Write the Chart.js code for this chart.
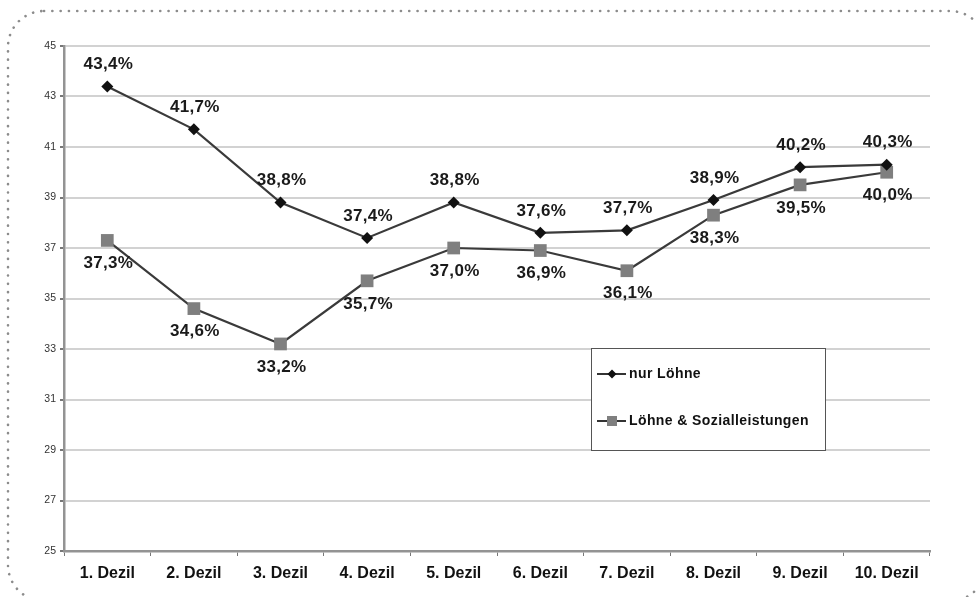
<!DOCTYPE html>
<html>
<head>
<meta charset="utf-8">
<script src="https://cdn.jsdelivr.net/npm/chart.js@4"></script>
<style>
  html, body { margin: 0; padding: 0; background: #fff; }
  #wrap { width: 976px; height: 597px; position: relative; }
</style>
</head>
<body>
<div id="wrap"><canvas id="myChart" width="976" height="597"></canvas></div>
<script>
// Daten
var dezile = ["1. Dezil", "2. Dezil", "3. Dezil", "4. Dezil", "5. Dezil",
              "6. Dezil", "7. Dezil", "8. Dezil", "9. Dezil", "10. Dezil"];
var nurLoehne = [43.4, 41.7, 38.8, 37.4, 38.8, 37.6, 37.7, 38.9, 40.2, 40.3];
var loehneSozial = [37.3, 34.6, 33.2, 35.7, 37.0, 36.9, 36.1, 38.3, 39.5, 40.0];
var serienNamen = ["nur Löhne", "Löhne & Sozialleistungen"];
var yMin = 25, yMax = 45, yStep = 2;

var fontFam = "'Liberation Sans', Arial, sans-serif";

function fmt(v) {
	return v.toFixed(1).replace(".", ",") + "%";
}

// gepunkteter Rahmen
var rahmen = {
	id: "rahmen",
	beforeDraw: function(chart) {
		var c = chart.ctx;
		c.save();
		c.fillStyle = "#fff";
		c.fillRect(0, 0, chart.width, chart.height);
		c.strokeStyle = "#8c8c8c";
		c.lineWidth = 2.6;
		c.lineCap = "round";
		c.setLineDash([0.1, 8.2]);
		c.beginPath();
		c.roundRect(8, 11, 978, 590, 36);
		c.stroke();
		c.restore();
	}
};

// Werte an den Punkten
var werte = {
	id: "werte",
	afterDatasetsDraw: function(chart) {
		var c = chart.ctx;
		c.save();
		c.font = "bold 17px " + fontFam;
		c.letterSpacing = "0.3px";
		c.fillStyle = "#1a1a1a";
		c.textAlign = "center";
		c.textBaseline = "middle";
		chart.data.datasets.forEach(function(ds, i) {
			var meta = chart.getDatasetMeta(i);
			meta.data.forEach(function(pt, j) {
				var dy = i === 0 ? -22 : 23;
				c.fillText(fmt(ds.data[j]), pt.x + 1, pt.y + dy);
			});
		});
		c.restore();
	}
};

// Legende im Diagramm
var legende = {
	id: "legende",
	afterDatasetsDraw: function(chart) {
		var c = chart.ctx;
		var x = 591.5, y = 348.5, w = 234, h = 102;
		c.save();
		c.fillStyle = "#fff";
		c.fillRect(x, y, w, h);
		c.strokeStyle = "#555";
		c.lineWidth = 1;
		c.strokeRect(x, y, w, h);
		var rows = [374, 421];
		chart.data.datasets.forEach(function(ds, i) {
			var ly = rows[i];
			c.strokeStyle = "#333";
			c.lineWidth = 2;
			c.beginPath();
			c.moveTo(597, ly);
			c.lineTo(626, ly);
			c.stroke();
			c.fillStyle = ds.pointBackgroundColor;
			if (i === 0) {
				c.beginPath();
				c.moveTo(612, ly - 4.5);
				c.lineTo(616.5, ly);
				c.lineTo(612, ly + 4.5);
				c.lineTo(607.5, ly);
				c.closePath();
				c.fill();
			} else {
				c.fillRect(607, ly - 5, 10, 10);
			}
			c.fillStyle = "#111";
			c.font = "bold 14px " + fontFam;
			c.letterSpacing = "0.4px";
			c.textAlign = "left";
			c.textBaseline = "middle";
			c.fillText(ds.label, 629, ly);
		});
		c.restore();
	}
};

var ctx = document.getElementById("myChart");

var myChart = new Chart(ctx, {
	type: "line",
	data: {
		labels: dezile,
		datasets: [
			{
				label: serienNamen[0],
				data: nurLoehne,
				borderColor: "#3a3a3a",
				borderWidth: 2.2,
				pointStyle: "rectRot",
				pointRadius: 6,
				pointBackgroundColor: "#111",
				pointBorderColor: "#111",
				pointBorderWidth: 0,
				tension: 0,
				fill: false
			},
			{
				label: serienNamen[1],
				data: loehneSozial,
				borderColor: "#3a3a3a",
				borderWidth: 2.2,
				pointStyle: "rect",
				pointRadius: 9,
				pointBackgroundColor: "#7f7f7f",
				pointBorderColor: "#7f7f7f",
				pointBorderWidth: 0,
				tension: 0,
				fill: false
			}
		]
	},
	options: {
		responsive: false,
		animation: false,
		layout: { padding: { top: 46, right: 46, left: 0, bottom: 0 } },
		plugins: {
			legend: { display: false },
			tooltip: { enabled: false }
		},
		scales: {
			x: {
				offset: true,
				afterFit: function(s) { s.height = 46; },
				grid: {
					offset: true,
					drawOnChartArea: false,
					drawTicks: true,
					tickLength: 5,
					color: "#777",
					lineWidth: 1
				},
				border: { color: "#939393", width: 2.5 },
				ticks: {
					color: "#111",
					padding: 8,
					maxRotation: 0,
					font: { family: fontFam, size: 16, weight: "bold" }
				}
			},
			y: {
				min: yMin,
				max: yMax,
				afterFit: function(s) { s.width = 64; },
				grid: {
					color: "#d2d2d2",
					lineWidth: 2,
					drawTicks: true,
					tickLength: 4,
					tickColor: "#777"
				},
				border: { color: "#939393", width: 2.5 },
				ticks: {
					stepSize: yStep,
					color: "#333",
					padding: 4,
					font: { family: fontFam, size: 10.5 }
				}
			}
		}
	},
	plugins: [rahmen, werte, legende]
});
</script>
</body>
</html>
